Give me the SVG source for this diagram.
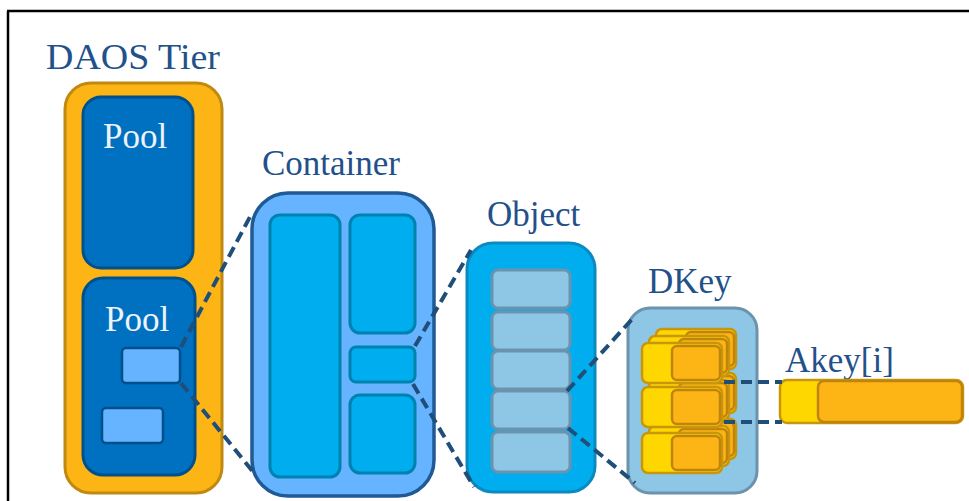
<svg xmlns="http://www.w3.org/2000/svg" width="969" height="501" viewBox="0 0 969 501">
<style>
.lbl{font-family:"Liberation Serif","Times New Roman",serif;font-size:35px;fill:#22518a}
.plbl{font-family:"Liberation Serif","Times New Roman",serif;font-size:35px;fill:#eef3fa}
.orange{fill:#fdb515;stroke:#c08a10;stroke-width:3}
.pool{fill:#0070c0;stroke:#00508c;stroke-width:3}
.lblue{fill:#66b3ff;stroke:#00508c;stroke-width:2.5}
.cont{fill:#66b3ff;stroke:#1f5a96;stroke-width:3.5}
.cyan{fill:#00aeef;stroke:#0082b0;stroke-width:3}
.obj{fill:#00aeef;stroke:#0a8ac0;stroke-width:3}
.pale{fill:#8ec6e6;stroke:#6b93ae;stroke-width:3}
.yel{fill:#ffd700;stroke:#c8960c;stroke-width:2.5}
.org{fill:#fdb515;stroke:#c0840e;stroke-width:2.5}
.dash{fill:none;stroke:#1f4e79;stroke-width:4;stroke-dasharray:11 6}
</style>
<defs>
<g id="cell">
<rect class="yel" x="0" y="0" width="80" height="40" rx="6"/>
<rect class="org" x="30" y="3" width="48" height="34" rx="5"/>
</g>
<g id="stack">
<use href="#cell" x="14" y="-14"/>
<use href="#cell" x="7" y="-7"/>
<use href="#cell" x="0" y="0"/>
</g>
</defs>
<g id="frame" fill="none" stroke="#000" stroke-width="2.5">
<line x1="8" y1="11" x2="8" y2="501"/>
<line x1="7" y1="11" x2="969" y2="11"/>
</g>
<g id="daos-tier">
<text class="lbl" x="46" y="69" textLength="174" lengthAdjust="spacingAndGlyphs">DAOS Tier</text>
<rect class="orange" x="65" y="83" width="157" height="410" rx="26"/>
</g>
<g id="pool1">
<rect class="pool" x="83" y="97" width="110" height="171" rx="18"/>
<text class="plbl" x="103" y="148">Pool</text>
</g>
<g id="pool2">
<rect class="pool" x="83" y="278" width="112" height="197" rx="20"/>
<text class="plbl" x="105" y="331">Pool</text>
<rect class="lblue" x="122" y="348" width="58" height="35" rx="4"/>
<rect class="lblue" x="102" y="408" width="61" height="35" rx="4"/>
</g>
<g id="container">
<text class="lbl" x="262" y="175">Container</text>
<rect class="cont" x="252" y="193" width="182" height="303" rx="36"/>
<rect class="cyan" x="270" y="215" width="70" height="262" rx="10"/>
<rect class="cyan" x="350" y="215" width="65" height="118" rx="10"/>
<rect class="cyan" x="350" y="347" width="65" height="35" rx="6"/>
<rect class="cyan" x="350" y="395" width="65" height="78" rx="10"/>
</g>
<g id="object">
<text class="lbl" x="487" y="226">Object</text>
<rect class="obj" x="467" y="243" width="128" height="249" rx="26"/>
<rect class="pale" x="492" y="270" width="78" height="38" rx="6"/>
<rect class="pale" x="492" y="312" width="78" height="38" rx="6"/>
<rect class="pale" x="492" y="351" width="78" height="38" rx="6"/>
<rect class="pale" x="492" y="391" width="78" height="38" rx="6"/>
<rect class="pale" x="492" y="432" width="78" height="40" rx="6"/>
</g>
<g id="dkey">
<text class="lbl" x="648" y="293">DKey</text>
<rect class="pale" x="628" y="308" width="129" height="185" rx="22"/>
<use href="#stack" x="642" y="433"/>
<use href="#stack" x="642" y="387"/>
<use href="#stack" x="642" y="343"/>
</g>
<g id="akey">
<text class="lbl" x="785" y="372">Akey[i]</text>
<rect class="yel" x="780" y="380" width="183" height="43" rx="7" stroke-width="3"/>
<rect class="org" x="818" y="381" width="144" height="41" rx="6"/>
</g>
<g id="connectors">
<line class="dash" x1="181" y1="347" x2="252" y2="213"/>
<line class="dash" x1="181" y1="383" x2="254" y2="473"/>
<line class="dash" x1="415" y1="346" x2="471" y2="250"/>
<line class="dash" x1="413" y1="384" x2="474" y2="487"/>
<line class="dash" x1="567" y1="391" x2="634" y2="317"/>
<line class="dash" x1="568" y1="428" x2="635" y2="483"/>
<line class="dash" x1="724" y1="382" x2="782" y2="382"/>
<line class="dash" x1="724" y1="422" x2="782" y2="422"/>
</g>
</svg>
